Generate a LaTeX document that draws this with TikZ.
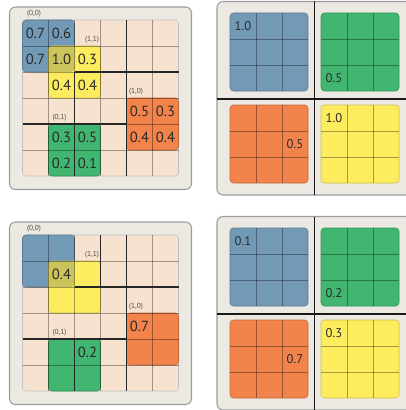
\documentclass[tikz,border=0pt]{standalone}
\usepackage{fontspec}
\setsansfont{PT Sans}
\usepackage{xcolor}

\definecolor{panelbg}{HTML}{EBE9E2}
\definecolor{panelline}{HTML}{9C9C9C}
\definecolor{peach}{HTML}{F6E2CF}
\definecolor{roiblue}{HTML}{7299B6}
\definecolor{roiyellow}{HTML}{FEEC5F}
\definecolor{roiorange}{HTML}{F2834B}
\definecolor{roigreen}{HTML}{40B670}
\definecolor{roiolive}{HTML}{CBC45C}
\definecolor{numtext}{HTML}{2A2A2A}

\begin{document}
\begin{tikzpicture}[
  x=0.75pt, y=-0.75pt,
  panel/.style={fill=panelbg, draw=panelline, line width=0.8pt, rounded corners=4.5pt},
  cellbg/.style={fill=peach, draw=black!25, line width=0.4pt, rounded corners=2.5pt},
  block/.style={rounded corners=2.5pt, line width=0.4pt},
  gridline/.style={draw=black, draw opacity=0.35, line width=0.5pt},
  binline/.style={draw=black!85, line width=0.9pt},
  sepline/.style={draw=black!90, line width=0.8pt},
  val/.style={font=\sffamily\fontsize{11}{13}\selectfont, text=numtext, inner sep=0pt},
  pval/.style={font=\sffamily\fontsize{9.5}{11}\selectfont, text=numtext, inner sep=0pt},
  binlabel/.style={font=\sffamily\fontsize{5.5}{6.5}\selectfont, text=black!70, inner sep=0pt},
]

\useasboundingbox (0,0) rectangle (406,410);
\clip (0,0) rectangle (406,410);

% Left panels: RoI on the 6x6 map (top and bottom share the layout)
\foreach \dy/\tag in {0/top, 215/bot} {
  \begin{scope}[shift={(0,\dy)}]
    \draw[panel] (9.5,7) rectangle (191.5,189.5);
    \draw[cellbg] (22.5,20) rectangle (178.5,176);
    % bins
    \draw[block, fill=roiblue, draw=roiblue!80!black] (22.5,20) rectangle (74.5,72);
    \draw[block, fill=roiyellow, draw=roiyellow!80!black] (48.5,46) rectangle (100.5,98);
    \begin{scope}
      \clip[rounded corners=2.5pt] (22.5,20) rectangle (74.5,72);
      \fill[block, roiolive] (48.5,46) rectangle (100.5,98);
    \end{scope}
    \draw[block, fill=roiorange, draw=roiorange!80!black] (126.5,98) rectangle (178.5,150);
    \draw[block, fill=roigreen, draw=roigreen!80!black] (48.5,124) rectangle (100.5,176);
    % cell grid
    \foreach \k in {1,...,5} {
      \draw[gridline] ({22.5+26*\k},20) -- ({22.5+26*\k},176);
      \draw[gridline] (22.5,{20+26*\k}) -- (178.5,{20+26*\k});
    }
    % bin indices
    \node[binlabel] (\tag-l00) at (34,14) {(0,0)};
    \node[binlabel] (\tag-l11) at (92,40) {(1,1)};
    \node[binlabel] (\tag-l10) at (136,92) {(1,0)};
    \node[binlabel] (\tag-l01) at (59.5,118) {(0,1)};
  \end{scope}
}

% Top left: bin borders and values
\draw[binline] (126.5,20) -- (126.5,176);
\draw[binline] (74.5,72) -- (178.5,72);
\draw[binline] (22.5,124) -- (126.5,124);
\draw[binline] (74.5,72) -- (74.5,176);
\foreach \c/\r/\v [count=\i] in {0/0/0.7, 1/0/0.6, 0/1/0.7, 1/1/1.0, 2/1/0.3, 1/2/0.4, 2/2/0.4,
    4/3/0.5, 5/3/0.3, 4/4/0.4, 5/4/0.4, 1/4/0.3, 2/4/0.5, 1/5/0.2, 2/5/0.1}
  \node[val] (tv\i) at ({35.5+26*\c},{33+26*\r}) {\v};

% Bottom left: bin borders and values
\draw[binline] (126.5,235) -- (126.5,391);
\draw[binline] (74.5,287) -- (178.5,287);
\draw[binline] (22.5,339) -- (126.5,339);
\draw[binline] (100.5,235) -- (100.5,287);
\draw[binline] (74.5,339) -- (74.5,391);
\foreach \c/\r/\v [count=\i] in {1/1/0.4, 4/3/0.7, 2/4/0.2}
  \node[val] (bv\i) at ({35.5+26*\c},{248+26*\r}) {\v};

% Right panels: pooled score maps, one 3x3 map per bin
\foreach \dy/\tag in {0/top, 215/bot} {
  \begin{scope}[shift={(0,\dy)}]
    \draw[panel] (217,1.5) rectangle (430,195);
    \draw[sepline] (314.5,1.5) -- (314.5,195);
    \draw[sepline] (217,99) -- (430,99);
    \foreach \ox/\oy/\col in {230/13/roiblue, 321/13/roigreen, 230/105/roiorange, 321/105/roiyellow} {
      \draw[block, fill=\col, draw=\col!80!black] (\ox,\oy) rectangle ({\ox+78},{\oy+78});
      \foreach \k in {1,2} {
        \draw[gridline] ({\ox+26*\k},\oy) -- ({\ox+26*\k},{\oy+78});
        \draw[gridline] (\ox,{\oy+26*\k}) -- ({\ox+78},{\oy+26*\k});
      }
    }
  \end{scope}
}

% Pooled values
\node[pval] (pb1) at (243,26) {1.0};
\node[pval] (pg1) at (334,78) {0.5};
\node[pval] (po1) at (295,144) {0.5};
\node[pval] (py1) at (334,118) {1.0};
\node[pval] (pb2) at (243,241) {0.1};
\node[pval] (pg2) at (334,293) {0.2};
\node[pval] (po2) at (295,359) {0.7};
\node[pval] (py2) at (334,333) {0.3};

\end{tikzpicture}
\end{document}
